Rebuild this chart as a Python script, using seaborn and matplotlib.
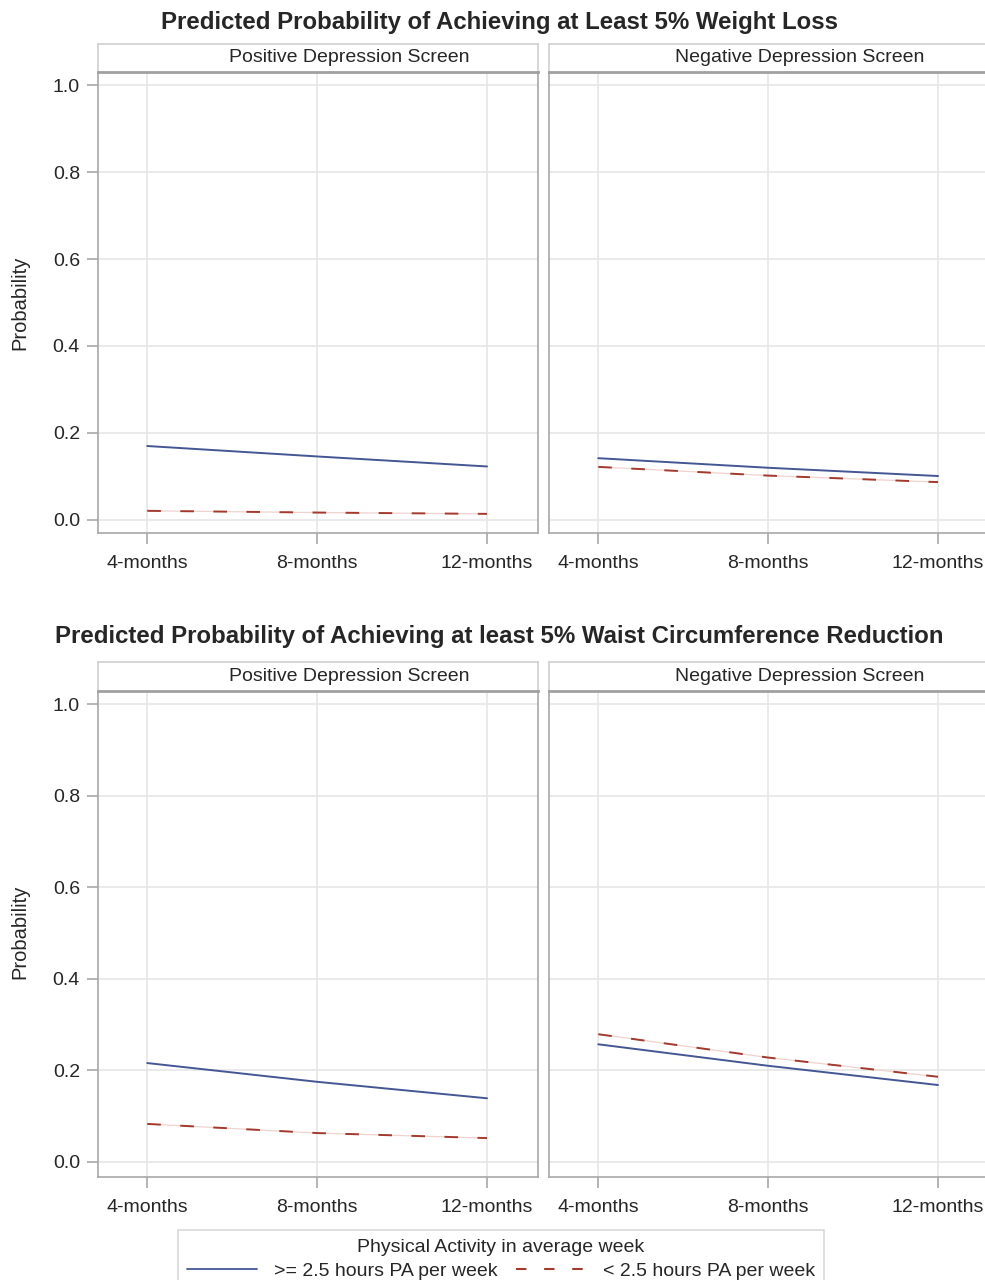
import numpy as np
import pandas as pd
import matplotlib
matplotlib.use("Agg")
import matplotlib.pyplot as plt
from matplotlib.lines import Line2D
import seaborn as sns

visits = ["4-months", "8-months", "12-months"]
screens = ["Positive Depression Screen", "Negative Depression Screen"]
groups = [">= 2.5 hours PA per week", "< 2.5 hours PA per week"]
titles = ["Predicted Probability of Achieving at Least 5% Weight Loss",
          "Predicted Probability of Achieving at least 5% Waist Circumference Reduction"]

# weight loss
wl_pos_hi = [0.170, 0.146, 0.123]
wl_pos_lo = [0.021, 0.017, 0.014]
wl_neg_hi = [0.142, 0.120, 0.101]
wl_neg_lo = [0.122, 0.102, 0.087]
# waist circumference
wc_pos_hi = [0.216, 0.175, 0.139]
wc_pos_lo = [0.083, 0.063, 0.052]
wc_neg_hi = [0.257, 0.210, 0.168]
wc_neg_lo = [0.279, 0.228, 0.186]

def make_df(pos_hi, pos_lo, neg_hi, neg_lo):
    rows = []
    for scr, hi, lo in [(screens[0], pos_hi, pos_lo), (screens[1], neg_hi, neg_lo)]:
        for g, vals in [(groups[0], hi), (groups[1], lo)]:
            for i, v in enumerate(vals):
                rows.append({"screen": scr, "group": g, "visit": i, "prob": v})
    return pd.DataFrame(rows)

dfs = [make_df(wl_pos_hi, wl_pos_lo, wl_neg_hi, wl_neg_lo),
       make_df(wc_pos_hi, wc_pos_lo, wc_neg_hi, wc_neg_lo)]

sns.set_style("white")
plt.rcParams["font.family"] = ["Liberation Sans", "DejaVu Sans"]

blue = "#445694"
red = "#A23A2E"
palette = {groups[0]: blue, groups[1]: red}
dashes = {groups[0]: "", groups[1]: (7, 10)}
frame_col = "#a8a8a8"
grid_col = "#e6e6e6"
fs = 14

W, H = 985, 1280
fig = plt.figure(figsize=(W / 100, H / 100), dpi=100)

# pixel layout: (axes top, axes bottom, header top, ylim, title y, ylabel y)
rows_px = [(72, 533, 44, (-0.030, 1.030), 22, 303),
           (691, 1177, 662, (-0.033, 1.029), 637, 932)]
cols_px = [98, 549]
panel_w = 440

for r, (top, bot, htop, ylim, ty, ly) in enumerate(rows_px):
    df = dfs[r]
    fig.text(0.507, 1 - ty / H, titles[r], ha="center", va="center",
             fontsize=17.3, fontweight="bold",
             family=["Liberation Sans Narrow", "Liberation Sans", "DejaVu Sans"])
    fig.text(20 / W, 1 - ly / H, "Probability", rotation=90, ha="center",
             va="center", fontsize=14.5)
    for c, x0 in enumerate(cols_px):
        ax = fig.add_axes([x0 / W, 1 - bot / H, panel_w / W, (bot - top) / H])
        sub = df[df["screen"] == screens[c]]
        lo = sub[sub["group"] == groups[1]]
        ax.plot(lo["visit"], lo["prob"], color="#efd2ce", lw=0.9, zorder=2)
        sns.lineplot(data=sub, x="visit", y="prob", hue="group", style="group",
                     palette=palette, dashes=dashes, hue_order=groups,
                     style_order=groups, linewidth=1.4, legend=False, ax=ax,
                     zorder=3)
        ax.set_xlim(-0.29, 2.30)
        ax.set_ylim(*ylim)
        ax.set_xticks(range(3))
        ax.set_xticklabels(visits)
        ax.set_yticks(np.arange(0, 1.01, 0.2))
        ax.grid(True, color=grid_col, lw=1.2)
        ax.set_axisbelow(True)
        ax.set_xlabel("")
        ax.set_ylabel("")
        for s in ax.spines.values():
            s.set_color(frame_col)
            s.set_linewidth(1.2)
        ax.tick_params(axis="x", length=8, width=1.2, color=frame_col,
                       labelsize=fs, pad=8, direction="out", bottom=True)
        if c == 0:
            ax.set_yticklabels([f"{v:.1f}" for v in np.arange(0, 1.01, 0.2)])
            ax.tick_params(axis="y", length=8, width=1.2, color=frame_col,
                           labelsize=fs, pad=5, direction="out", left=True)
        else:
            ax.tick_params(axis="y", left=False, labelleft=False)
        # strip header
        hx = fig.add_axes([x0 / W, 1 - top / H, panel_w / W, (top - htop) / H])
        hx.set_xticks([])
        hx.set_yticks([])
        for s in hx.spines.values():
            s.set_color("#d0d0d0")
            s.set_linewidth(1.2)
        hx.spines["bottom"].set_color("#a0a0a0")
        hx.spines["bottom"].set_linewidth(2)
        hx.text(0.57, 0.5, screens[c], ha="center", va="center",
                fontsize=fs, transform=hx.transAxes)

handles = [Line2D([], [], color=blue, lw=1.3),
           Line2D([], [], color=red, lw=1.5, dashes=(5, 8.5))]
leg = fig.legend(handles, groups, title="Physical Activity in average week",
                 ncol=2, loc="upper center", bbox_to_anchor=(501 / W, 1 - 1230 / H),
                 fontsize=fs, title_fontsize=fs, frameon=True,
                 fancybox=False, edgecolor="#d0d0d0", handlelength=3.6,
                 columnspacing=0.9, handletextpad=0.9, borderpad=0.45,
                 labelspacing=0.35, borderaxespad=0)
leg.get_frame().set_linewidth(1.2)

fig.savefig("out.png", dpi=100)
